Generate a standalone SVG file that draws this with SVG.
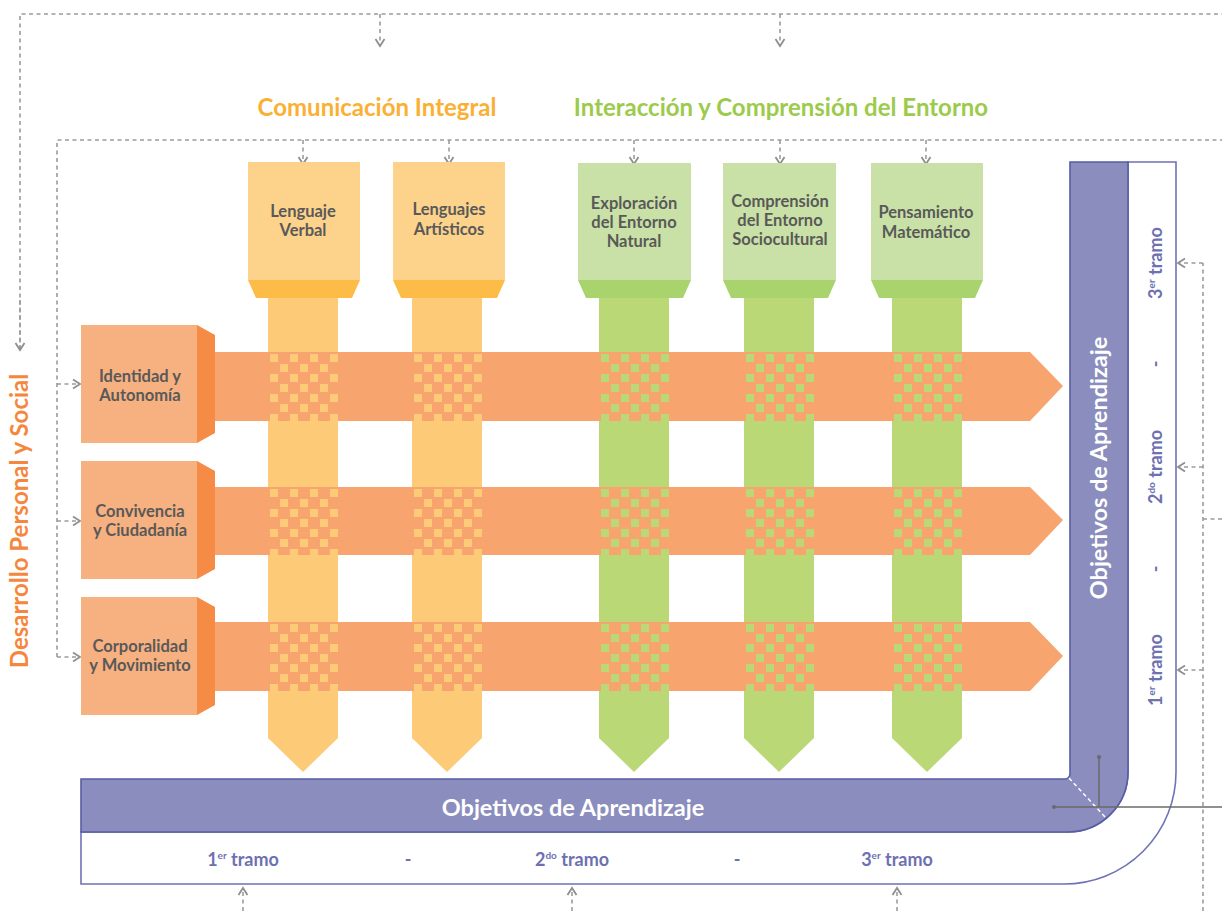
<svg xmlns="http://www.w3.org/2000/svg" width="1222" height="911" viewBox="0 0 1222 911">
<style>
.dash{fill:none;stroke:#9c9c9c;stroke-width:1.6;stroke-dasharray:4 3.5}
.lbl{font-family:Lato,"Liberation Sans",sans-serif;font-weight:bold;font-size:16.5px;fill:#595959;text-anchor:middle}
.title{font-family:Lato,"Liberation Sans",sans-serif;font-weight:bold;font-size:24px;text-anchor:middle}
.obj{font-family:Lato,"Liberation Sans",sans-serif;font-weight:bold;font-size:23.5px;fill:#ffffff;text-anchor:middle}
.tr{font-family:Lato,"Liberation Sans",sans-serif;font-weight:bold;font-size:18px;fill:#6d71b1;text-anchor:middle}
.sup{font-size:10px}
.obox{fill:#fdd28b}.otrap{fill:#fdbb48}.ostem{fill:#fdca78}
.gbox{fill:#c9e1a6}.gtrap{fill:#a9d36c}.gstem{fill:#bad976}
.rbox{fill:#f7b07f}.rbev{fill:#f58b45}.band{fill:#f7a46e}
</style>
<defs>
<marker id="arr" viewBox="0 0 12 12" refX="10" refY="6" markerWidth="12" markerHeight="12" markerUnits="userSpaceOnUse" orient="auto">
<path d="M3,1.5 L10,6 L3,10.5" fill="none" stroke="#8f8f8f" stroke-width="1.8"/>
</marker>
<pattern id="pO" patternUnits="userSpaceOnUse" width="20" height="20">
<rect width="20" height="20" fill="#f7a46e"/>
<rect x="2" y="2" width="8" height="8" fill="#fdca78"/>
<rect x="12" y="12" width="8" height="8" fill="#fdca78"/>
</pattern>
<pattern id="pG" patternUnits="userSpaceOnUse" width="20" height="20">
<rect width="20" height="20" fill="#f7a46e"/>
<rect x="2" y="2" width="8" height="8" fill="#bad976"/>
<rect x="12" y="12" width="8" height="8" fill="#bad976"/>
</pattern>
</defs>

<g id="connectors">
<path class="dash" d="M20,350 V14 H1222"/>
<path class="dash" d="M20,300 V350" marker-end="url(#arr)"/>
<path class="dash" d="M380,14 V46" marker-end="url(#arr)"/>
<path class="dash" d="M780,14 V46" marker-end="url(#arr)"/>
<path class="dash" d="M57,657 V140 H1222"/>
<path class="dash" d="M57,384 H80" marker-end="url(#arr)"/>
<path class="dash" d="M57,521 H80" marker-end="url(#arr)"/>
<path class="dash" d="M57,657 H80" marker-end="url(#arr)"/>
<path class="dash" d="M303,140 V164" marker-end="url(#arr)"/>
<path class="dash" d="M449,140 V164" marker-end="url(#arr)"/>
<path class="dash" d="M634,140 V164" marker-end="url(#arr)"/>
<path class="dash" d="M780,140 V164" marker-end="url(#arr)"/>
<path class="dash" d="M926,140 V164" marker-end="url(#arr)"/>
<path class="dash" d="M1203,911 V263"/>
<path class="dash" d="M1203,263 H1178" marker-end="url(#arr)"/>
<path class="dash" d="M1203,467 H1178" marker-end="url(#arr)"/>
<path class="dash" d="M1203,670 H1178" marker-end="url(#arr)"/>
<path class="dash" d="M1203,519 H1222"/>
<path class="dash" d="M243,911 V888" marker-end="url(#arr)"/>
<path class="dash" d="M572,911 V888" marker-end="url(#arr)"/>
<path class="dash" d="M897,911 V888" marker-end="url(#arr)"/>
</g>

<text class="title" x="377" y="116" fill="#fbb034">Comunicación Integral</text>
<text class="title" x="781" y="116" fill="#9ccb4c">Interacción y Comprensión del Entorno</text>
<text class="title" transform="translate(28,521) rotate(-90)" fill="#f5873d">Desarrollo Personal y Social</text>

<g id="col-lenguaje-verbal">
<polygon class="ostem" points="268,296 338,296 338,738 303,772 268,738"/>
<rect class="obox" x="248" y="162" width="112" height="118"/>
<polygon class="otrap" points="248,280 360,280 352,298 256,298"/>
<text class="lbl" x="303" y="217">Lenguaje</text>
<text class="lbl" x="303" y="236">Verbal</text>
</g>
<g id="col-lenguajes-artisticos">
<polygon class="ostem" points="412,296 482,296 482,738 447,772 412,738"/>
<rect class="obox" x="393" y="162" width="112" height="118"/>
<polygon class="otrap" points="393,280 505,280 497,298 401,298"/>
<text class="lbl" x="449" y="215">Lenguajes</text>
<text class="lbl" x="449" y="235">Artísticos</text>
</g>
<g id="col-exploracion">
<polygon class="gstem" points="599,296 669,296 669,738 634,772 599,738"/>
<rect class="gbox" x="578" y="163" width="113" height="117"/>
<polygon class="gtrap" points="578,280 691,280 683,298 586,298"/>
<text class="lbl" x="634" y="209">Exploración</text>
<text class="lbl" x="634" y="228">del Entorno</text>
<text class="lbl" x="634" y="247">Natural</text>
</g>
<g id="col-comprension">
<polygon class="gstem" points="744,296 814,296 814,738 779,772 744,738"/>
<rect class="gbox" x="723" y="163" width="113" height="117"/>
<polygon class="gtrap" points="723,280 836,280 828,298 731,298"/>
<text class="lbl" x="780" y="207">Comprensión</text>
<text class="lbl" x="780" y="226">del Entorno</text>
<text class="lbl" x="780" y="245">Sociocultural</text>
</g>
<g id="col-pensamiento">
<polygon class="gstem" points="892,296 962,296 962,738 927,772 892,738"/>
<rect class="gbox" x="871" y="163" width="112" height="117"/>
<polygon class="gtrap" points="871,280 983,280 975,298 879,298"/>
<text class="lbl" x="926" y="218">Pensamiento</text>
<text class="lbl" x="926" y="238">Matemático</text>
</g>

<g id="row-identidad">
<polygon class="band" points="215,352 1030,352 1063,386 1030,421 215,421"/>
<rect class="rbox" x="81" y="325" width="117" height="118"/>
<polygon class="rbev" points="197,325 215,335 215,433 197,443"/>
<text class="lbl" x="140" y="382">Identidad y</text>
<text class="lbl" x="140" y="401">Autonomía</text>
</g>
<g id="row-convivencia">
<polygon class="band" points="215,487 1030,487 1063,520 1030,555 215,555"/>
<rect class="rbox" x="81" y="461" width="117" height="118"/>
<polygon class="rbev" points="197,461 215,471 215,569 197,579"/>
<text class="lbl" x="140" y="517">Convivencia</text>
<text class="lbl" x="140" y="536">y Ciudadanía</text>
</g>
<g id="row-corporalidad">
<polygon class="band" points="215,622 1030,622 1063,656 1030,691 215,691"/>
<rect class="rbox" x="81" y="597" width="117" height="118"/>
<polygon class="rbev" points="197,597 215,607 215,705 197,715"/>
<text class="lbl" x="140" y="652">Corporalidad</text>
<text class="lbl" x="140" y="671">y Movimiento</text>
</g>

<g id="intersections">
<rect x="0" y="0" width="70" height="69" fill="url(#pO)" transform="translate(268,352)"/>
<rect x="0" y="0" width="70" height="69" fill="url(#pO)" transform="translate(412,352)"/>
<rect x="0" y="0" width="70" height="69" fill="url(#pG)" transform="translate(599,352)"/>
<rect x="0" y="0" width="70" height="69" fill="url(#pG)" transform="translate(744,352)"/>
<rect x="0" y="0" width="70" height="69" fill="url(#pG)" transform="translate(892,352)"/>
<rect x="0" y="0" width="70" height="68" fill="url(#pO)" transform="translate(268,487)"/>
<rect x="0" y="0" width="70" height="68" fill="url(#pO)" transform="translate(412,487)"/>
<rect x="0" y="0" width="70" height="68" fill="url(#pG)" transform="translate(599,487)"/>
<rect x="0" y="0" width="70" height="68" fill="url(#pG)" transform="translate(744,487)"/>
<rect x="0" y="0" width="70" height="68" fill="url(#pG)" transform="translate(892,487)"/>
<rect x="0" y="0" width="70" height="69" fill="url(#pO)" transform="translate(268,622)"/>
<rect x="0" y="0" width="70" height="69" fill="url(#pO)" transform="translate(412,622)"/>
<rect x="0" y="0" width="70" height="69" fill="url(#pG)" transform="translate(599,622)"/>
<rect x="0" y="0" width="70" height="69" fill="url(#pG)" transform="translate(744,622)"/>
<rect x="0" y="0" width="70" height="69" fill="url(#pG)" transform="translate(892,622)"/>
</g>

<g id="objetivos">
<path d="M1128,162 H1176 V772 A112,112 0 0 1 1064,884 H81 V832 H1068 A60,60 0 0 0 1128,772 Z" fill="#ffffff" stroke="#6e73b3" stroke-width="1.6"/>
<path d="M1070,162 H1128 V772 A60,60 0 0 1 1068,832 H81 V779 H1065 A5,5 0 0 0 1070,774 Z" fill="#8a8dbd" stroke="#575ca4" stroke-width="1.6"/>
<line x1="1069" y1="778" x2="1106" y2="818" stroke="#ffffff" stroke-width="1.5" stroke-dasharray="4 3"/>
<line x1="1099" y1="757" x2="1099" y2="807" stroke="#6a6a6a" stroke-width="1.5"/>
<line x1="1054" y1="807" x2="1222" y2="807" stroke="#6a6a6a" stroke-width="1.5"/>
<circle cx="1099" cy="757" r="2" fill="#6a6a6a"/>
<circle cx="1054" cy="807" r="2" fill="#6a6a6a"/>
<text class="obj" x="573" y="816">Objetivos de Aprendizaje</text>
<text class="obj" transform="translate(1107,468) rotate(-90)">Objetivos de Aprendizaje</text>
<text class="tr" x="243" y="866">1<tspan class="sup" dy="-7">er</tspan><tspan dy="7"> tramo</tspan></text>
<text class="tr" x="408" y="866">-</text>
<text class="tr" x="572" y="866">2<tspan class="sup" dy="-7">do</tspan><tspan dy="7"> tramo</tspan></text>
<text class="tr" x="737" y="866">-</text>
<text class="tr" x="897" y="866">3<tspan class="sup" dy="-7">er</tspan><tspan dy="7"> tramo</tspan></text>
<text class="tr" transform="translate(1162,263) rotate(-90)">3<tspan class="sup" dy="-7">er</tspan><tspan dy="7"> tramo</tspan></text>
<text class="tr" transform="translate(1162,364) rotate(-90)">-</text>
<text class="tr" transform="translate(1162,467) rotate(-90)">2<tspan class="sup" dy="-7">do</tspan><tspan dy="7"> tramo</tspan></text>
<text class="tr" transform="translate(1162,569) rotate(-90)">-</text>
<text class="tr" transform="translate(1162,670) rotate(-90)">1<tspan class="sup" dy="-7">er</tspan><tspan dy="7"> tramo</tspan></text>
</g>
</svg>
